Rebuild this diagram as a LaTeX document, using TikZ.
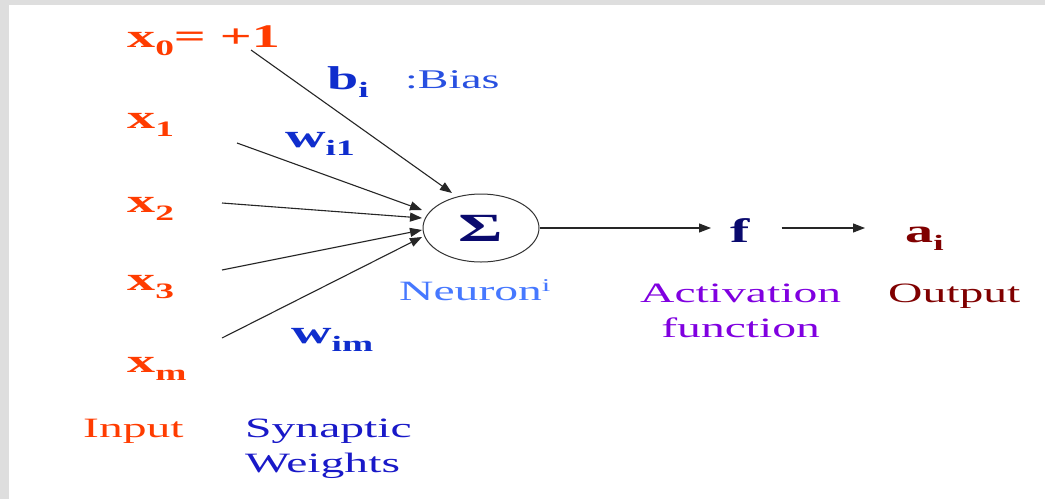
\documentclass[tikz,border=0pt]{standalone}
\usepackage{fontspec}
\setmainfont{Liberation Serif}
\usetikzlibrary{arrows.meta,shapes.geometric}
\definecolor{inred}{RGB}{255,60,0}
\definecolor{wblue}{RGB}{15,45,205}
\definecolor{bluebias}{RGB}{40,80,225}
\definecolor{synblue}{RGB}{25,25,200}
\definecolor{neuronblue}{RGB}{70,120,255}
\definecolor{actpurple}{RGB}{128,0,224}
\definecolor{outred}{RGB}{128,0,0}
\definecolor{sigmanavy}{RGB}{10,10,110}
\definecolor{bordergray}{RGB}{222,222,222}
\newcommand{\strt}[1]{\scalebox{1.7}[1]{#1}}
\newcommand{\lsub}[1]{\raisebox{-8pt}{\fontsize{22}{22}\selectfont #1}}
\tikzset{
  lbl/.style={inner sep=0pt, anchor=base west},
  arr/.style={draw=black!85, line width=1.1pt, -{Triangle[length=12pt,width=9pt]}},
  big/.style={font=\fontsize{33}{36}\selectfont\bfseries},
  txt/.style={font=\fontsize{28}{35}\selectfont}
}
\begin{document}
\begin{tikzpicture}[x=1pt,y=-1pt]
\useasboundingbox (0,0) rectangle (1045,499);
\fill[white] (0,0) rectangle (1045,499);
\fill[bordergray] (0,0) rectangle (1045,5);
\fill[bordergray] (0,0) rectangle (9,499);

% inputs
\node[lbl,big,text=inred] (x0) at (127,47) {\strt{x\lsub{0}= +1}};
\node[lbl,big,text=inred] (x1) at (127,128) {\strt{x\lsub{1}}};
\node[lbl,big,text=inred] (x2) at (127,212) {\strt{x\lsub{2}}};
\node[lbl,big,text=inred] (x3) at (127,290) {\strt{x\lsub{3}}};
\node[lbl,big,text=inred] (xm) at (127,372) {\strt{x\lsub{m}}};
\node[lbl,txt,text=inred] (input) at (83,437) {\strt{Input}};
\node[lbl,txt,text=synblue] (syn) at (245,437) {\strt{\begin{tabular}[t]{@{}l@{}}Synaptic\\Weights\end{tabular}}};

% weights
\node[lbl,big,text=wblue] (b) at (327,89) {\strt{b\lsub{i}}};
\node[lbl,font=\fontsize{27}{30}\selectfont,text=bluebias] (bias) at (405,88) {\strt{:Bias}};
\node[lbl,big,text=wblue] (w1) at (285,147) {\strt{w\lsub{i1}}};
\node[lbl,big,text=wblue] (wm) at (291,343) {\strt{w\lsub{im}}};

% neuron
\node[ellipse,draw=black!80,line width=1pt,minimum width=116pt,minimum height=68pt,inner sep=0pt,
      font=\fontsize{40}{40}\selectfont\bfseries,text=sigmanavy] (n) at (481,228) {\strt{Σ}};
\node[lbl,txt,text=neuronblue] (neuron) at (399,300) {\strt{Neuron\raisebox{9pt}{\fontsize{18}{18}\selectfont i}}};

% activation and output
\node[lbl,font=\fontsize{34}{36}\selectfont\bfseries,text=sigmanavy] (f) at (730,242) {\strt{f}};
\node[lbl,big,text=outred] (a) at (905,242) {\strt{a\lsub{i}}};
\node[lbl,txt,text=actpurple] (act) at (640,302) {\strt{\begin{tabular}[t]{@{}c@{}}Activation\\function\end{tabular}}};
\node[lbl,txt,text=outred] (out) at (888,302) {\strt{Output}};

% connector end points
\coordinate (s0) at (251,50);
\coordinate (s1) at (237,143);
\coordinate (s2) at (222,203);
\coordinate (s3) at (222,270);
\coordinate (s4) at (222,338);
\coordinate (e0) at (452,193);
\coordinate (e1) at (422,210);
\coordinate (e2) at (422,218);
\coordinate (e3) at (422,230);
\coordinate (e4) at (422,237);

\draw[arr] (s0) -- (e0);
\draw[arr] (s1) -- (e1);
\draw[arr] (s2) -- (e2);
\draw[arr] (s3) -- (e3);
\draw[arr] (s4) -- (e4);

\draw[arr] (n.east) -- ([xshift=-19pt]f.west |- n.east);
\draw[arr] ([xshift=32pt]f.east |- n.east) -- ([xshift=-40pt]a.west |- n.east);
\end{tikzpicture}
\end{document}
